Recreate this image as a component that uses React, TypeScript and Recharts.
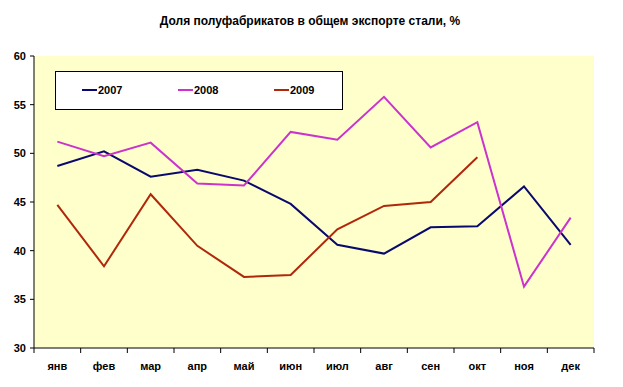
import { LineChart, Line, XAxis, YAxis, CartesianGrid, Legend } from "recharts";

const months = ["янв", "фев", "мар", "апр", "май", "июн", "июл", "авг", "сен", "окт", "ноя", "дек"];
const s2007 = [48.7, 50.2, 47.6, 48.3, 47.2, 44.8, 40.6, 39.7, 42.4, 42.5, 46.6, 40.6];
const s2008 = [51.2, 49.7, 51.1, 46.9, 46.7, 52.2, 51.4, 55.8, 50.6, 53.2, 36.3, 43.4];
const s2009: (number | null)[] = [44.7, 38.4, 45.8, 40.5, 37.3, 37.5, 42.2, 44.6, 45.0, 49.6, null, null];
const yTicks = [30, 35, 40, 45, 50, 55, 60];
const xBounds = [0, 1, 2, 3, 4, 5, 6, 7, 8, 9, 10, 11, 12];

const series = [
  { key: "y2007", name: "2007", color: "#0A0A6E" },
  { key: "y2008", name: "2008", color: "#CC33CC" },
  { key: "y2009", name: "2009", color: "#B0280C" },
];

const data = months.map((m, i) => ({
  x: i + 0.5,
  month: m,
  y2007: s2007[i],
  y2008: s2008[i],
  y2009: s2009[i],
}));

const W = 623;
const H = 387;
const M = { top: 56, right: 29, left: 0, bottom: 0 };
const Y_W = 34;
const HALF_BAND = (W - M.right - Y_W) / months.length / 2;
const FONT = "'Liberation Sans', Arial, sans-serif";

const MonthTick = (props: any) => {
  const { x, y, payload } = props;
  const i = payload.value;
  if (i >= months.length) return null;
  return (
    <text x={x + HALF_BAND} y={y + 15} textAnchor="middle" fontSize={11} fontWeight="bold" fill="#000" fontFamily={FONT}>
      {months[i]}
    </text>
  );
};

const LegendBox = () => (
  <div
    style={{
      width: 288,
      height: 39,
      boxSizing: "border-box",
      border: "1px solid #000",
      background: "#fff",
      position: "relative",
      fontFamily: FONT,
      fontSize: 11,
      fontWeight: "bold",
    }}
  >
    {series.map((s, i) => (
      <div key={s.key} style={{ position: "absolute", left: 26 + i * 96, top: 12, display: "flex", alignItems: "center" }}>
        <span style={{ display: "inline-block", width: 15, height: 2, background: s.color, marginRight: 1 }} />
        <span>{s.name}</span>
      </div>
    ))}
  </div>
);

export default function App() {
  return (
    <div style={{ position: "absolute", left: 0, top: 0, width: W, height: H, background: "#fff" }}>
      <div
        style={{
          position: "absolute",
          left: 0,
          top: 14,
          width: 620,
          textAlign: "center",
          fontFamily: FONT,
          fontSize: 12,
          fontWeight: "bold",
          color: "#000",
        }}
      >
        Доля полуфабрикатов в общем экспорте стали, %
      </div>
      <LineChart width={W} height={H} data={data} margin={M}>
        <CartesianGrid fill="#FFFFCC" horizontal={false} vertical={false} />
        <XAxis
          xAxisId="top"
          orientation="top"
          type="number"
          dataKey="x"
          domain={[0, 12]}
          height={0}
          tick={false}
          tickLine={false}
          axisLine={{ stroke: "#999" }}
        />
        <YAxis
          yAxisId="right"
          orientation="right"
          domain={[30, 60]}
          width={0}
          tick={false}
          tickLine={false}
          axisLine={{ stroke: "#999" }}
        />
        <XAxis
          type="number"
          dataKey="x"
          domain={[0, 12]}
          ticks={xBounds}
          interval={0}
          height={39}
          tick={<MonthTick />}
          tickSize={5}
          tickLine={{ stroke: "#000" }}
          axisLine={{ stroke: "#000" }}
        />
        <YAxis
          domain={[30, 60]}
          ticks={yTicks}
          interval={0}
          width={Y_W}
          tickSize={4}
          tickMargin={4}
          tickLine={{ stroke: "#000" }}
          axisLine={{ stroke: "#000" }}
          tick={{ fontSize: 11, fontWeight: "bold", fill: "#000", fontFamily: FONT }}
        />
        <Legend
          layout="horizontal"
          verticalAlign="middle"
          align="center"
          content={<LegendBox />}
          wrapperStyle={{ left: 55, top: 71, width: 288, height: 39 }}
        />
        {series.map((s) => (
          <Line
            key={s.key}
            type="linear"
            dataKey={s.key}
            name={s.name}
            stroke={s.color}
            strokeWidth={2}
            dot={false}
            activeDot={false}
            isAnimationActive={false}
          />
        ))}
      </LineChart>
    </div>
  );
}
